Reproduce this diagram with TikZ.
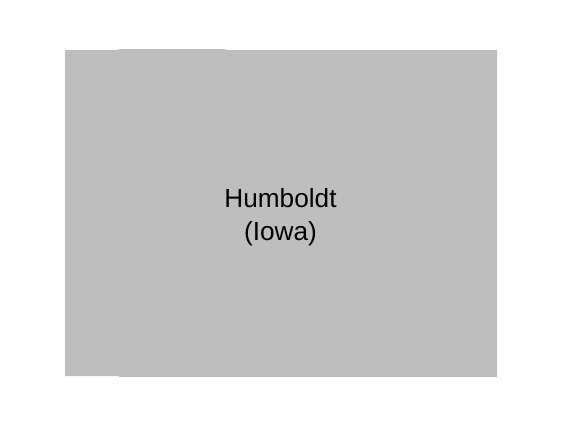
\documentclass[tikz,border=0pt]{standalone}
\usepackage{fontspec}
\setmainfont{Liberation Sans}
\definecolor{county}{RGB}{190,190,190}
\tikzset{
  region/.style={fill=county, draw=none},
  label/.style={align=center, inner sep=0pt, font=\fontsize{26.2}{33.5}\selectfont, text=black}
}
\begin{document}
\begin{tikzpicture}[x=1pt,y=-1pt]
\useasboundingbox (0,0) rectangle (562,426);
\fill[region] (65,50) -- (119,50) -- (119,49) -- (225,49) -- (225,50) -- (497,50)
  -- (497,377) -- (119,377) -- (119,376) -- (65,376) -- cycle;
\node[label, anchor=base] (c) at (280.5,240.5) {Humboldt\\(Iowa)};
\end{tikzpicture}
\end{document}
